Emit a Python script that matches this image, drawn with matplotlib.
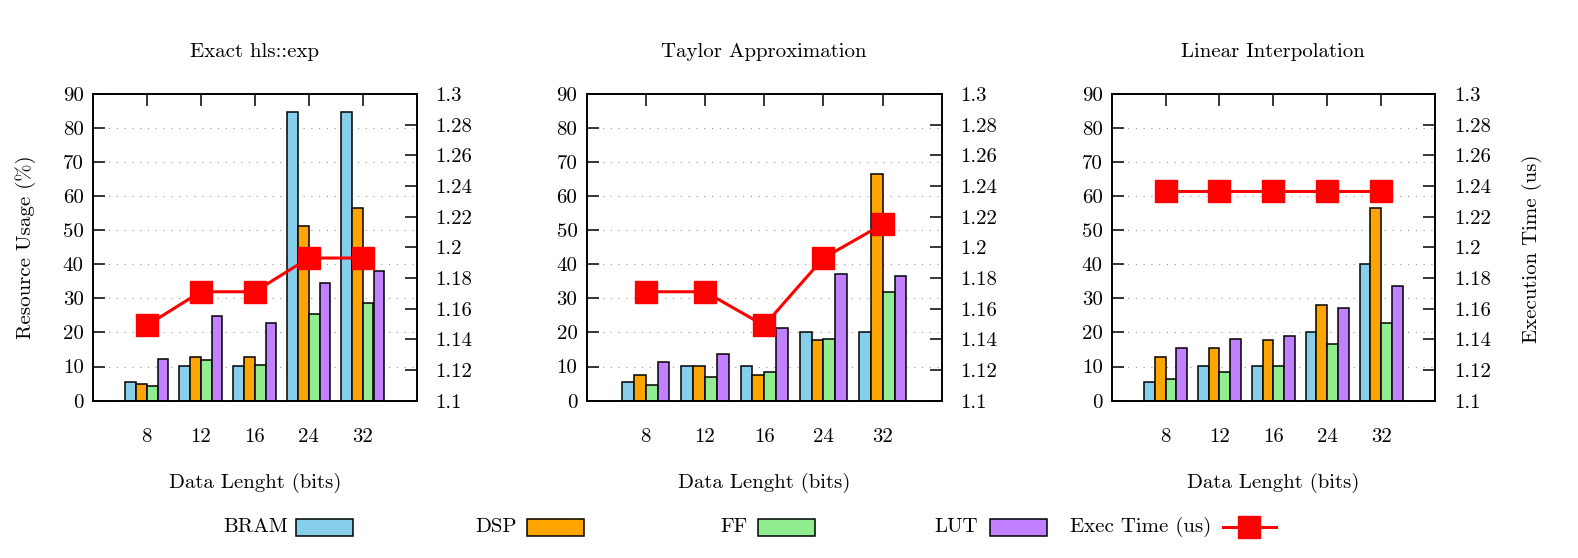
import matplotlib
matplotlib.use('Agg')
import matplotlib.pyplot as plt
from matplotlib.patches import Rectangle
from matplotlib.lines import Line2D
import numpy as np

# data
sizes = ['8', '12', '16', '24', '32']
series_names = ['BRAM', 'DSP', 'FF', 'LUT']
colors = ['#87ceeb', '#ffa500', '#90ee90', '#c080ff']

exact_bram = [5.4, 10.3, 10.3, 84.6, 84.6]
exact_dsp = [4.9, 12.7, 12.7, 51.2, 56.5]
exact_ff = [4.2, 11.9, 10.5, 25.3, 28.7]
exact_lut = [12.1, 24.8, 22.9, 34.6, 37.9]
exact_time = [1.149, 1.171, 1.171, 1.193, 1.193]

taylor_bram = [5.4, 10.3, 10.3, 20.0, 20.0]
taylor_dsp = [7.5, 10.2, 7.5, 17.8, 66.5]
taylor_ff = [4.6, 6.9, 8.5, 18.2, 31.9]
taylor_lut = [11.4, 13.6, 21.3, 37.3, 36.7]
taylor_time = [1.171, 1.171, 1.149, 1.193, 1.215]

linear_bram = [5.4, 10.3, 10.3, 20.0, 40.2]
linear_dsp = [12.7, 15.4, 17.8, 28.1, 56.4]
linear_ff = [6.3, 8.5, 10.3, 16.7, 22.9]
linear_lut = [15.5, 18.0, 19.1, 27.2, 33.5]
linear_time = [1.237, 1.237, 1.237, 1.237, 1.237]

y1_ticks = [0, 10, 20, 30, 40, 50, 60, 70, 80, 90]
y2_ticks = [1.1, 1.12, 1.14, 1.16, 1.18, 1.2, 1.22, 1.24, 1.26, 1.28, 1.3]

plt.rcParams['font.family'] = 'cmr10'
plt.rcParams['font.size'] = 15
plt.rcParams['axes.unicode_minus'] = False

W, H = 1578, 558
fig = plt.figure(figsize=(W / 100, H / 100), dpi=100)


def box(x0, x1, y0=94, y1=400.6):
    return [x0 / W, 1 - y1 / H, (x1 - x0) / W, (y1 - y0) / H]


panels = [
    ('Exact hls::exp', [exact_bram, exact_dsp, exact_ff, exact_lut], exact_time, box(92.7, 416.7)),
    ('Taylor Approximation', [taylor_bram, taylor_dsp, taylor_ff, taylor_lut], taylor_time, box(586.5, 941.9)),
    ('Linear Interpolation', [linear_bram, linear_dsp, linear_ff, linear_lut], linear_time, box(1111.7, 1435)),
]

x = np.arange(len(sizes))
bw = 0.2
for title, series, times, rect in panels:
    ax = fig.add_axes(rect)
    for k, vals in enumerate(series):
        ax.bar(x + (k - 1.5) * bw, vals, bw, color=colors[k], edgecolor='black',
               linewidth=1.1, zorder=2)
    for v in y1_ticks[1:-1]:
        ax.axhline(v, color='#999999', lw=0.8, ls=(0, (1, 6)), zorder=0)
    ax.set_xlim(-1, 5)
    ax.set_ylim(0, 90)
    ax.set_xticks(x, sizes)
    ax.set_yticks(y1_ticks, [str(v) for v in y1_ticks])
    ax.tick_params(axis='both', direction='in', length=8.6, width=1.1)
    ax.tick_params(axis='x', top=True, pad=20)
    ax.tick_params(axis='y', right=False, pad=6.5)
    for s in ax.spines.values():
        s.set_linewidth(1.2)
    ax.set_title(title, pad=26.6, fontsize=15)
    ax.set_xlabel('Data Lenght (bits)', labelpad=19)

    ax2 = ax.twinx()
    ax2.plot(x, times, color='red', lw=2.2, marker='s', ms=16, zorder=3)
    ax2.set_ylim(1.1, 1.3)
    ax2.set_yticks(y2_ticks, ['%g' % v for v in y2_ticks])
    ax2.tick_params(direction='in', length=8.6, width=1.1, pad=13.5)
    for s in ax2.spines.values():
        s.set_linewidth(1.2)

fig.text(26 / W, 1 - 247 / H, 'Resource Usage (%)', rotation=90, ha='center', va='center')
fig.text(1532 / W, 1 - 249 / H, 'Execution Time (us)', rotation=90, ha='center', va='center')

# legend row along the bottom
ly = 1 - 527 / H
text_right = [288, 517, 748, 978]
box_left = [296, 527, 758, 990]
for name, col, tx, bx in zip(series_names, colors, text_right, box_left):
    fig.text(tx / W, ly, name, ha='right', va='center')
    fig.add_artist(Rectangle((bx / W, ly - 8.5 / H), 57 / W, 17 / H, transform=fig.transFigure,
                             facecolor=col, edgecolor='black', lw=1.1))
fig.text(1211 / W, ly, 'Exec Time (us)', ha='right', va='center')
fig.add_artist(Line2D([1223 / W, 1276 / W], [ly, ly], color='red', lw=2.2, transform=fig.transFigure))
fig.add_artist(Line2D([1249 / W], [ly], color='red', marker='s', ms=16, transform=fig.transFigure))

fig.savefig('out.png', dpi=100)
